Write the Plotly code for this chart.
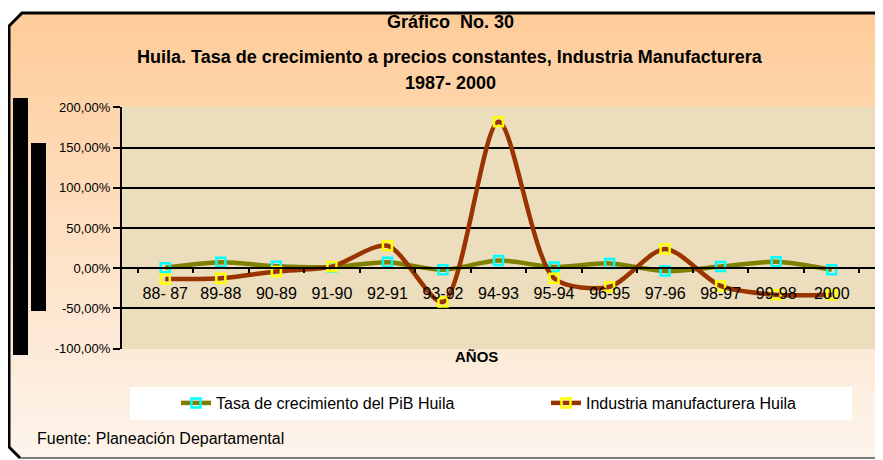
import plotly.graph_objects as go

# data
periodos = ['88- 87', '89-88', '90-89', '91-90', '92-91', '93-92', '94-93',
            '95-94', '96-95', '97-96', '98-97', '99-98', '2000']
pib_huila = [0.5, 7.5, 2.5, 1.5, 7.5, -2.0, 9.5, 1.5, 6.0, -3.5, 2.0, 8.0, -2.0]
industria = [-13.5, -12.5, -4.0, 2.0, 28.0, -42.0, 182.0, -12.5, -23.0, 24.0,
             -22.0, -33.0, -33.0]
y_ticks = [-100, -50, 0, 50, 100, 150, 200]
y_tick_text = ['-100,00%', '-50,00%', '0,00%', '50,00%', '100,00%', '150,00%', '200,00%']

# the page puts the figure 8px in from the top-left corner
OFF = 8
W, H = 883 - OFF, 460 - OFF
L, R, T, B = 122, 875, 107, 349   # plot area, in page pixels
Y_MIN, Y_MAX = -100.5, 200.5
FONT = 'Liberation Sans, Arial, sans-serif'


def px(x):
    return (x - L) / (R - L)


def py(y):
    return (B - y) / (B - T)


fig = go.Figure()
fig.add_trace(go.Scatter(
    x=periodos, y=pib_huila, name='Tasa de crecimiento del PiB Huila', legend='legend',
    mode='lines+markers', line=dict(color='#7F7F00', width=4.5, shape='spline', smoothing=0.8),
    marker=dict(symbol='square-open', size=9, color='#00FFFF', line=dict(width=2.5)),
))
fig.add_trace(go.Scatter(
    x=periodos, y=industria, name='Industria manufacturera Huila', legend='legend2',
    mode='lines+markers', line=dict(color='#993300', width=4.5, shape='spline', smoothing=0.8),
    marker=dict(symbol='square-open', size=9, color='#FFFF00', line=dict(width=2.5)),
))

# background: peach gradient frame
shapes = []
n = 48
top, bot = 13, 458
c0, c1 = (254, 204, 153), (253, 244, 236)
for i in range(n):
    y0 = top + (bot - top) * i / n
    y1 = top + (bot - top) * (i + 1) / n + 0.6
    f = i / (n - 1)
    col = 'rgb(%d,%d,%d)' % tuple(round(a + (b - a) * f) for a, b in zip(c0, c1))
    shapes.append(dict(type='rect', xref='paper', yref='paper', layer='below',
                       x0=px(9), x1=px(884), y0=py(y0), y1=py(y1),
                       line=dict(width=0), fillcolor=col))
# cut corners
for path in [f'M{px(8)},{py(12)} L{px(23)},{py(12)} L{px(8)},{py(27)} Z',
             f'M{px(8)},{py(459)} L{px(21)},{py(459)} L{px(8)},{py(446)} Z']:
    shapes.append(dict(type='path', xref='paper', yref='paper', layer='below',
                       path=path, fillcolor='white', line=dict(width=0)))
# plot area (parchment)
shapes.append(dict(type='rect', xref='paper', yref='paper', layer='below',
                   x0=0, x1=1, y0=0, y1=1, line=dict(width=0), fillcolor='#ECDDBC'))
# legend box
shapes.append(dict(type='rect', xref='paper', yref='paper', layer='below',
                   x0=px(130), x1=px(852), y0=py(387), y1=py(420),
                   line=dict(width=0), fillcolor='white'))
# frame outline
shapes.append(dict(type='path', xref='paper', yref='paper', layer='above',
                   path=(f'M{px(884)},{py(13)} L{px(22)},{py(13)} L{px(9)},{py(26)} '
                         f'L{px(9)},{py(447)} L{px(20)},{py(458)}'),
                   line=dict(color='black', width=3)))
shapes.append(dict(type='line', xref='paper', yref='paper', layer='above',
                   x0=px(20), x1=px(884), y0=py(458), y1=py(458),
                   line=dict(color='#555555', width=1.5)))
# black bars on the left
for x0, x1, y0, y1 in [(13, 28, 98, 355), (31, 46, 143, 311)]:
    shapes.append(dict(type='rect', xref='paper', yref='paper', layer='above',
                       x0=px(x0), x1=px(x1), y0=py(y0), y1=py(y1),
                       line=dict(width=0), fillcolor='black'))

annotations = [
    dict(text='<b>Gráfico  No. 30</b>', x=px(450), y=py(22), font=dict(size=18)),
    dict(text='<b>Huila. Tasa de crecimiento a precios constantes, Industria Manufacturera</b>',
         x=px(450), y=py(57), font=dict(size=18)),
    dict(text='<b>1987- 2000</b>', x=px(450), y=py(83), font=dict(size=18)),
    dict(text='<b>AÑOS</b>', x=px(476), y=py(356), font=dict(size=15)),
    dict(text='Fuente: Planeación Departamental', x=px(35), y=py(438),
         xanchor='left', font=dict(size=16)),
]
for a in annotations:
    a.update(xref='paper', yref='paper', showarrow=False,
             yanchor='middle', xanchor=a.get('xanchor', 'center'))

leg = dict(orientation='h', xanchor='left', yanchor='middle', y=py(403),
           bgcolor='rgba(0,0,0,0)', font=dict(size=16))

fig.update_layout(
    width=W, height=H,
    margin=dict(l=L - OFF, r=883 - R, t=T - OFF, b=460 - B, autoexpand=False),
    paper_bgcolor='white', plot_bgcolor='rgba(0,0,0,0)',
    font=dict(family=FONT, color='black'),
    showlegend=True,
    legend=dict(leg, x=px(176)),
    legend2=dict(leg, x=px(546)),
    shapes=shapes, annotations=annotations,
    xaxis=dict(type='category', anchor='free', position=(0 - Y_MIN) / (Y_MAX - Y_MIN),
               showgrid=False, showline=True, linecolor='black', linewidth=2,
               ticks='outside', tickson='boundaries', ticklen=4, tickwidth=2,
               tickcolor='black', ticklabelstandoff=11, tickfont=dict(size=16)),
    yaxis=dict(range=[Y_MIN, Y_MAX], tickvals=y_ticks, ticktext=y_tick_text,
               zeroline=False, showgrid=True, gridcolor='black', gridwidth=2,
               showline=True, linecolor='black', linewidth=2,
               ticks='outside', ticklen=7, tickwidth=2, tickcolor='black',
               tickfont=dict(size=13)),
)

fig.write_html('out.html')
